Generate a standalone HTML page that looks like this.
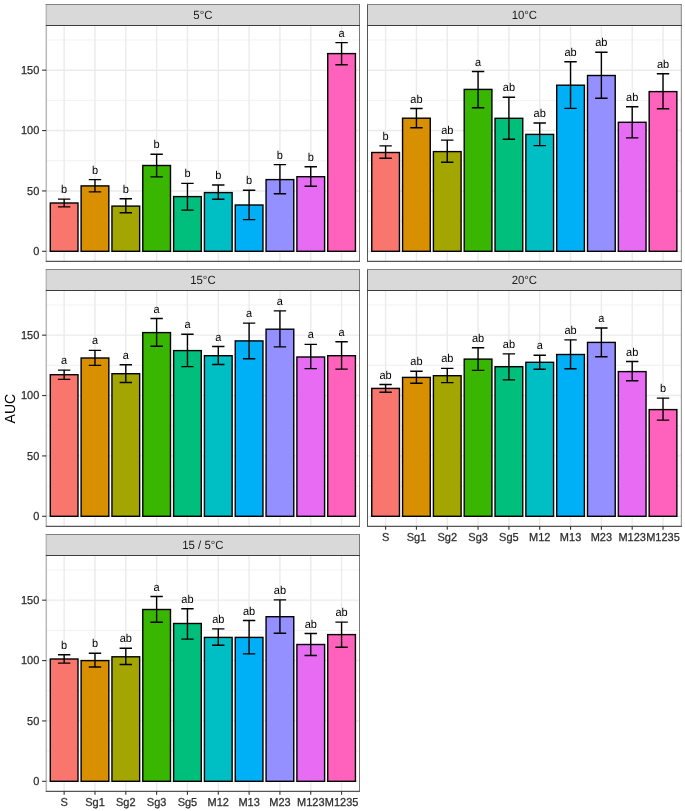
<!DOCTYPE html>
<html><head><meta charset="utf-8"><style>
html,body{margin:0;padding:0;background:#fff;}
body{width:685px;height:811px;overflow:hidden;}
svg{display:block;will-change:transform;}
text{font-family:"Liberation Sans",sans-serif;text-rendering:geometricPrecision;}
.lt{font-size:11.0px;text-anchor:middle;fill:#000;}
.st{font-size:11.4px;text-anchor:middle;fill:#1A1A1A;}
.yt{font-size:11.0px;text-anchor:end;fill:#2E2E2E;stroke:#2E2E2E;stroke-width:0.25px;}
.xt{font-size:11.0px;text-anchor:middle;fill:#2E2E2E;stroke:#2E2E2E;stroke-width:0.25px;}
.ti{font-size:14.0px;text-anchor:middle;fill:#000;}
</style></head><body>
<svg width="685" height="811" viewBox="0 0 685 811">
<g>
<rect width="685" height="811" fill="#fff"/>
<rect x="46.2" y="25.5" width="313.4" height="235.8" fill="#fff"/>
<line x1="46.2" x2="359.6" y1="221.11" y2="221.11" stroke="#EBEBEB" stroke-width="0.7"/>
<line x1="46.2" x2="359.6" y1="160.74" y2="160.74" stroke="#EBEBEB" stroke-width="0.7"/>
<line x1="46.2" x2="359.6" y1="100.36" y2="100.36" stroke="#EBEBEB" stroke-width="0.7"/>
<line x1="46.2" x2="359.6" y1="39.99" y2="39.99" stroke="#EBEBEB" stroke-width="0.7"/>
<line x1="46.2" x2="359.6" y1="251.3" y2="251.3" stroke="#EBEBEB" stroke-width="1.4"/>
<line x1="46.2" x2="359.6" y1="190.93" y2="190.93" stroke="#EBEBEB" stroke-width="1.4"/>
<line x1="46.2" x2="359.6" y1="130.55" y2="130.55" stroke="#EBEBEB" stroke-width="1.4"/>
<line x1="46.2" x2="359.6" y1="70.18" y2="70.18" stroke="#EBEBEB" stroke-width="1.4"/>
<line x1="64.15" x2="64.15" y1="25.5" y2="261.3" stroke="#EBEBEB" stroke-width="1.4"/>
<line x1="94.98" x2="94.98" y1="25.5" y2="261.3" stroke="#EBEBEB" stroke-width="1.4"/>
<line x1="125.8" x2="125.8" y1="25.5" y2="261.3" stroke="#EBEBEB" stroke-width="1.4"/>
<line x1="156.62" x2="156.62" y1="25.5" y2="261.3" stroke="#EBEBEB" stroke-width="1.4"/>
<line x1="187.45" x2="187.45" y1="25.5" y2="261.3" stroke="#EBEBEB" stroke-width="1.4"/>
<line x1="218.28" x2="218.28" y1="25.5" y2="261.3" stroke="#EBEBEB" stroke-width="1.4"/>
<line x1="249.1" x2="249.1" y1="25.5" y2="261.3" stroke="#EBEBEB" stroke-width="1.4"/>
<line x1="279.93" x2="279.93" y1="25.5" y2="261.3" stroke="#EBEBEB" stroke-width="1.4"/>
<line x1="310.75" x2="310.75" y1="25.5" y2="261.3" stroke="#EBEBEB" stroke-width="1.4"/>
<line x1="341.58" x2="341.58" y1="25.5" y2="261.3" stroke="#EBEBEB" stroke-width="1.4"/>
<rect x="50.3" y="203" width="27.7" height="48.3" fill="#F8766D" stroke="#000" stroke-width="1.4"/>
<rect x="81.13" y="185.9" width="27.7" height="65.4" fill="#D89000" stroke="#000" stroke-width="1.4"/>
<rect x="111.95" y="206.1" width="27.7" height="45.2" fill="#A3A500" stroke="#000" stroke-width="1.4"/>
<rect x="142.78" y="165.5" width="27.7" height="85.8" fill="#39B600" stroke="#000" stroke-width="1.4"/>
<rect x="173.6" y="196.6" width="27.7" height="54.7" fill="#00BF7D" stroke="#000" stroke-width="1.4"/>
<rect x="204.43" y="192.6" width="27.7" height="58.7" fill="#00BFC4" stroke="#000" stroke-width="1.4"/>
<rect x="235.25" y="205" width="27.7" height="46.3" fill="#00B0F6" stroke="#000" stroke-width="1.4"/>
<rect x="266.07" y="179.6" width="27.7" height="71.7" fill="#9590FF" stroke="#000" stroke-width="1.4"/>
<rect x="296.9" y="176.7" width="27.7" height="74.6" fill="#E76BF3" stroke="#000" stroke-width="1.4"/>
<rect x="327.73" y="53.6" width="27.7" height="197.7" fill="#FF62BC" stroke="#000" stroke-width="1.4"/>
<path d="M57.95 199.1H70.35M64.15 199.1V206.9M57.95 206.9H70.35" stroke="#000" stroke-width="1.4" fill="none"/>
<text transform="translate(64.15 193.1) scale(1 1.045)" class="lt">b</text>
<path d="M88.78 179.6H101.18M94.98 179.6V191.9M88.78 191.9H101.18" stroke="#000" stroke-width="1.4" fill="none"/>
<text transform="translate(94.98 173.6) scale(1 1.045)" class="lt">b</text>
<path d="M119.6 198.7H132M125.8 198.7V212.7M119.6 212.7H132" stroke="#000" stroke-width="1.4" fill="none"/>
<text transform="translate(125.8 192.7) scale(1 1.045)" class="lt">b</text>
<path d="M150.43 154.2H162.82M156.62 154.2V176.9M150.43 176.9H162.82" stroke="#000" stroke-width="1.4" fill="none"/>
<text transform="translate(156.62 148.2) scale(1 1.045)" class="lt">b</text>
<path d="M181.25 183.4H193.65M187.45 183.4V210.1M181.25 210.1H193.65" stroke="#000" stroke-width="1.4" fill="none"/>
<text transform="translate(187.45 177.4) scale(1 1.045)" class="lt">b</text>
<path d="M212.08 185H224.47M218.28 185V199.3M212.08 199.3H224.47" stroke="#000" stroke-width="1.4" fill="none"/>
<text transform="translate(218.28 179) scale(1 1.045)" class="lt">b</text>
<path d="M242.9 190.3H255.3M249.1 190.3V219.6M242.9 219.6H255.3" stroke="#000" stroke-width="1.4" fill="none"/>
<text transform="translate(249.1 184.3) scale(1 1.045)" class="lt">b</text>
<path d="M273.73 164.6H286.12M279.93 164.6V193.8M273.73 193.8H286.12" stroke="#000" stroke-width="1.4" fill="none"/>
<text transform="translate(279.93 158.6) scale(1 1.045)" class="lt">b</text>
<path d="M304.55 166.7H316.95M310.75 166.7V186.2M304.55 186.2H316.95" stroke="#000" stroke-width="1.4" fill="none"/>
<text transform="translate(310.75 160.7) scale(1 1.045)" class="lt">b</text>
<path d="M335.38 42.6H347.78M341.58 42.6V64.7M335.38 64.7H347.78" stroke="#000" stroke-width="1.4" fill="none"/>
<text transform="translate(341.58 36.6) scale(1 1.045)" class="lt">a</text>
<rect x="46.2" y="4.4" width="313.4" height="21.1" fill="#D9D9D9"/>
<line x1="46.3" x2="46.3" y1="3.9" y2="261.8" stroke="#B8B8B8" stroke-width="1.5"/>
<line x1="359.5" x2="359.5" y1="3.9" y2="261.8" stroke="#777777" stroke-width="1.0"/>
<line x1="45.8" x2="360" y1="4.5" y2="4.5" stroke="#808080" stroke-width="1.0"/>
<line x1="45.8" x2="360" y1="25.5" y2="25.5" stroke="#3C3C3C" stroke-width="1.1"/>
<line x1="45.8" x2="360" y1="261.4" y2="261.4" stroke="#555555" stroke-width="1.1"/>
<text transform="translate(202.9 19.3) scale(1 1.045)" class="st">5°C</text>
<line x1="42.1" x2="46.2" y1="251.3" y2="251.3" stroke="#333" stroke-width="1.1"/>
<text transform="translate(39.3 255.2) scale(1 1.045)" class="yt">0</text>
<line x1="42.1" x2="46.2" y1="190.93" y2="190.93" stroke="#333" stroke-width="1.1"/>
<text transform="translate(39.3 194.83) scale(1 1.045)" class="yt">50</text>
<line x1="42.1" x2="46.2" y1="130.55" y2="130.55" stroke="#333" stroke-width="1.1"/>
<text transform="translate(39.3 134.45) scale(1 1.045)" class="yt">100</text>
<line x1="42.1" x2="46.2" y1="70.18" y2="70.18" stroke="#333" stroke-width="1.1"/>
<text transform="translate(39.3 74.08) scale(1 1.045)" class="yt">150</text>
<rect x="367.65" y="25.5" width="313.4" height="235.8" fill="#fff"/>
<line x1="367.65" x2="681.05" y1="221.11" y2="221.11" stroke="#EBEBEB" stroke-width="0.7"/>
<line x1="367.65" x2="681.05" y1="160.74" y2="160.74" stroke="#EBEBEB" stroke-width="0.7"/>
<line x1="367.65" x2="681.05" y1="100.36" y2="100.36" stroke="#EBEBEB" stroke-width="0.7"/>
<line x1="367.65" x2="681.05" y1="39.99" y2="39.99" stroke="#EBEBEB" stroke-width="0.7"/>
<line x1="367.65" x2="681.05" y1="251.3" y2="251.3" stroke="#EBEBEB" stroke-width="1.4"/>
<line x1="367.65" x2="681.05" y1="190.93" y2="190.93" stroke="#EBEBEB" stroke-width="1.4"/>
<line x1="367.65" x2="681.05" y1="130.55" y2="130.55" stroke="#EBEBEB" stroke-width="1.4"/>
<line x1="367.65" x2="681.05" y1="70.18" y2="70.18" stroke="#EBEBEB" stroke-width="1.4"/>
<line x1="385.6" x2="385.6" y1="25.5" y2="261.3" stroke="#EBEBEB" stroke-width="1.4"/>
<line x1="416.42" x2="416.42" y1="25.5" y2="261.3" stroke="#EBEBEB" stroke-width="1.4"/>
<line x1="447.25" x2="447.25" y1="25.5" y2="261.3" stroke="#EBEBEB" stroke-width="1.4"/>
<line x1="478.07" x2="478.07" y1="25.5" y2="261.3" stroke="#EBEBEB" stroke-width="1.4"/>
<line x1="508.9" x2="508.9" y1="25.5" y2="261.3" stroke="#EBEBEB" stroke-width="1.4"/>
<line x1="539.72" x2="539.72" y1="25.5" y2="261.3" stroke="#EBEBEB" stroke-width="1.4"/>
<line x1="570.55" x2="570.55" y1="25.5" y2="261.3" stroke="#EBEBEB" stroke-width="1.4"/>
<line x1="601.38" x2="601.38" y1="25.5" y2="261.3" stroke="#EBEBEB" stroke-width="1.4"/>
<line x1="632.2" x2="632.2" y1="25.5" y2="261.3" stroke="#EBEBEB" stroke-width="1.4"/>
<line x1="663.02" x2="663.02" y1="25.5" y2="261.3" stroke="#EBEBEB" stroke-width="1.4"/>
<rect x="371.75" y="152.5" width="27.7" height="98.8" fill="#F8766D" stroke="#000" stroke-width="1.4"/>
<rect x="402.57" y="118.2" width="27.7" height="133.1" fill="#D89000" stroke="#000" stroke-width="1.4"/>
<rect x="433.4" y="151.6" width="27.7" height="99.7" fill="#A3A500" stroke="#000" stroke-width="1.4"/>
<rect x="464.22" y="89.4" width="27.7" height="161.9" fill="#39B600" stroke="#000" stroke-width="1.4"/>
<rect x="495.05" y="118.3" width="27.7" height="133" fill="#00BF7D" stroke="#000" stroke-width="1.4"/>
<rect x="525.87" y="134.4" width="27.7" height="116.9" fill="#00BFC4" stroke="#000" stroke-width="1.4"/>
<rect x="556.7" y="85.2" width="27.7" height="166.1" fill="#00B0F6" stroke="#000" stroke-width="1.4"/>
<rect x="587.52" y="75.5" width="27.7" height="175.8" fill="#9590FF" stroke="#000" stroke-width="1.4"/>
<rect x="618.35" y="122.3" width="27.7" height="129" fill="#E76BF3" stroke="#000" stroke-width="1.4"/>
<rect x="649.17" y="91.6" width="27.7" height="159.7" fill="#FF62BC" stroke="#000" stroke-width="1.4"/>
<path d="M379.4 145.9H391.8M385.6 145.9V158.2M379.4 158.2H391.8" stroke="#000" stroke-width="1.4" fill="none"/>
<text transform="translate(385.6 139.9) scale(1 1.045)" class="lt">b</text>
<path d="M410.22 108.5H422.62M416.42 108.5V127.7M410.22 127.7H422.62" stroke="#000" stroke-width="1.4" fill="none"/>
<text transform="translate(416.42 102.5) scale(1 1.045)" class="lt">ab</text>
<path d="M441.05 140.1H453.45M447.25 140.1V162.3M441.05 162.3H453.45" stroke="#000" stroke-width="1.4" fill="none"/>
<text transform="translate(447.25 134.1) scale(1 1.045)" class="lt">ab</text>
<path d="M471.87 71.5H484.27M478.07 71.5V107.7M471.87 107.7H484.27" stroke="#000" stroke-width="1.4" fill="none"/>
<text transform="translate(478.07 65.5) scale(1 1.045)" class="lt">a</text>
<path d="M502.7 97.2H515.1M508.9 97.2V139.3M502.7 139.3H515.1" stroke="#000" stroke-width="1.4" fill="none"/>
<text transform="translate(508.9 91.2) scale(1 1.045)" class="lt">ab</text>
<path d="M533.52 123H545.92M539.72 123V145.6M533.52 145.6H545.92" stroke="#000" stroke-width="1.4" fill="none"/>
<text transform="translate(539.72 117) scale(1 1.045)" class="lt">ab</text>
<path d="M564.35 61.8H576.75M570.55 61.8V108.4M564.35 108.4H576.75" stroke="#000" stroke-width="1.4" fill="none"/>
<text transform="translate(570.55 55.8) scale(1 1.045)" class="lt">ab</text>
<path d="M595.17 52.3H607.58M601.38 52.3V98.3M595.17 98.3H607.58" stroke="#000" stroke-width="1.4" fill="none"/>
<text transform="translate(601.38 46.3) scale(1 1.045)" class="lt">ab</text>
<path d="M626 106.8H638.4M632.2 106.8V137.9M626 137.9H638.4" stroke="#000" stroke-width="1.4" fill="none"/>
<text transform="translate(632.2 100.8) scale(1 1.045)" class="lt">ab</text>
<path d="M656.82 73.8H669.23M663.02 73.8V108.8M656.82 108.8H669.23" stroke="#000" stroke-width="1.4" fill="none"/>
<text transform="translate(663.02 67.8) scale(1 1.045)" class="lt">ab</text>
<rect x="367.65" y="4.4" width="313.4" height="21.1" fill="#D9D9D9"/>
<line x1="367.5" x2="367.5" y1="3.9" y2="261.8" stroke="#555555" stroke-width="1.0"/>
<line x1="681.4" x2="681.4" y1="3.9" y2="261.8" stroke="#999999" stroke-width="1.2"/>
<line x1="367" x2="681.9" y1="4.5" y2="4.5" stroke="#808080" stroke-width="1.0"/>
<line x1="367" x2="681.9" y1="25.5" y2="25.5" stroke="#3C3C3C" stroke-width="1.1"/>
<line x1="367" x2="681.9" y1="261.4" y2="261.4" stroke="#555555" stroke-width="1.1"/>
<text transform="translate(524.35 19.3) scale(1 1.045)" class="st">10°C</text>
<rect x="46.2" y="290.5" width="313.4" height="235.8" fill="#fff"/>
<line x1="46.2" x2="359.6" y1="486.11" y2="486.11" stroke="#EBEBEB" stroke-width="0.7"/>
<line x1="46.2" x2="359.6" y1="425.74" y2="425.74" stroke="#EBEBEB" stroke-width="0.7"/>
<line x1="46.2" x2="359.6" y1="365.36" y2="365.36" stroke="#EBEBEB" stroke-width="0.7"/>
<line x1="46.2" x2="359.6" y1="304.99" y2="304.99" stroke="#EBEBEB" stroke-width="0.7"/>
<line x1="46.2" x2="359.6" y1="516.3" y2="516.3" stroke="#EBEBEB" stroke-width="1.4"/>
<line x1="46.2" x2="359.6" y1="455.92" y2="455.92" stroke="#EBEBEB" stroke-width="1.4"/>
<line x1="46.2" x2="359.6" y1="395.55" y2="395.55" stroke="#EBEBEB" stroke-width="1.4"/>
<line x1="46.2" x2="359.6" y1="335.17" y2="335.17" stroke="#EBEBEB" stroke-width="1.4"/>
<line x1="64.15" x2="64.15" y1="290.5" y2="526.3" stroke="#EBEBEB" stroke-width="1.4"/>
<line x1="94.98" x2="94.98" y1="290.5" y2="526.3" stroke="#EBEBEB" stroke-width="1.4"/>
<line x1="125.8" x2="125.8" y1="290.5" y2="526.3" stroke="#EBEBEB" stroke-width="1.4"/>
<line x1="156.62" x2="156.62" y1="290.5" y2="526.3" stroke="#EBEBEB" stroke-width="1.4"/>
<line x1="187.45" x2="187.45" y1="290.5" y2="526.3" stroke="#EBEBEB" stroke-width="1.4"/>
<line x1="218.28" x2="218.28" y1="290.5" y2="526.3" stroke="#EBEBEB" stroke-width="1.4"/>
<line x1="249.1" x2="249.1" y1="290.5" y2="526.3" stroke="#EBEBEB" stroke-width="1.4"/>
<line x1="279.93" x2="279.93" y1="290.5" y2="526.3" stroke="#EBEBEB" stroke-width="1.4"/>
<line x1="310.75" x2="310.75" y1="290.5" y2="526.3" stroke="#EBEBEB" stroke-width="1.4"/>
<line x1="341.58" x2="341.58" y1="290.5" y2="526.3" stroke="#EBEBEB" stroke-width="1.4"/>
<rect x="50.3" y="374.7" width="27.7" height="141.6" fill="#F8766D" stroke="#000" stroke-width="1.4"/>
<rect x="81.13" y="358" width="27.7" height="158.3" fill="#D89000" stroke="#000" stroke-width="1.4"/>
<rect x="111.95" y="373.7" width="27.7" height="142.6" fill="#A3A500" stroke="#000" stroke-width="1.4"/>
<rect x="142.78" y="332.6" width="27.7" height="183.7" fill="#39B600" stroke="#000" stroke-width="1.4"/>
<rect x="173.6" y="350.6" width="27.7" height="165.7" fill="#00BF7D" stroke="#000" stroke-width="1.4"/>
<rect x="204.43" y="355.7" width="27.7" height="160.6" fill="#00BFC4" stroke="#000" stroke-width="1.4"/>
<rect x="235.25" y="340.9" width="27.7" height="175.4" fill="#00B0F6" stroke="#000" stroke-width="1.4"/>
<rect x="266.07" y="329.2" width="27.7" height="187.1" fill="#9590FF" stroke="#000" stroke-width="1.4"/>
<rect x="296.9" y="357" width="27.7" height="159.3" fill="#E76BF3" stroke="#000" stroke-width="1.4"/>
<rect x="327.73" y="355.7" width="27.7" height="160.6" fill="#FF62BC" stroke="#000" stroke-width="1.4"/>
<path d="M57.95 370.1H70.35M64.15 370.1V379.4M57.95 379.4H70.35" stroke="#000" stroke-width="1.4" fill="none"/>
<text transform="translate(64.15 364.1) scale(1 1.045)" class="lt">a</text>
<path d="M88.78 350.4H101.18M94.98 350.4V365.4M88.78 365.4H101.18" stroke="#000" stroke-width="1.4" fill="none"/>
<text transform="translate(94.98 344.4) scale(1 1.045)" class="lt">a</text>
<path d="M119.6 364.8H132M125.8 364.8V382.5M119.6 382.5H132" stroke="#000" stroke-width="1.4" fill="none"/>
<text transform="translate(125.8 358.8) scale(1 1.045)" class="lt">a</text>
<path d="M150.43 318.5H162.82M156.62 318.5V346.2M150.43 346.2H162.82" stroke="#000" stroke-width="1.4" fill="none"/>
<text transform="translate(156.62 312.5) scale(1 1.045)" class="lt">a</text>
<path d="M181.25 334.2H193.65M187.45 334.2V366.6M181.25 366.6H193.65" stroke="#000" stroke-width="1.4" fill="none"/>
<text transform="translate(187.45 328.2) scale(1 1.045)" class="lt">a</text>
<path d="M212.08 346.5H224.47M218.28 346.5V364.5M212.08 364.5H224.47" stroke="#000" stroke-width="1.4" fill="none"/>
<text transform="translate(218.28 340.5) scale(1 1.045)" class="lt">a</text>
<path d="M242.9 323.1H255.3M249.1 323.1V358.8M242.9 358.8H255.3" stroke="#000" stroke-width="1.4" fill="none"/>
<text transform="translate(249.1 317.1) scale(1 1.045)" class="lt">a</text>
<path d="M273.73 310.9H286.12M279.93 310.9V346.9M273.73 346.9H286.12" stroke="#000" stroke-width="1.4" fill="none"/>
<text transform="translate(279.93 304.9) scale(1 1.045)" class="lt">a</text>
<path d="M304.55 344.4H316.95M310.75 344.4V368.6M304.55 368.6H316.95" stroke="#000" stroke-width="1.4" fill="none"/>
<text transform="translate(310.75 338.4) scale(1 1.045)" class="lt">a</text>
<path d="M335.38 341.7H347.78M341.58 341.7V369.1M335.38 369.1H347.78" stroke="#000" stroke-width="1.4" fill="none"/>
<text transform="translate(341.58 335.7) scale(1 1.045)" class="lt">a</text>
<rect x="46.2" y="269.4" width="313.4" height="21.1" fill="#D9D9D9"/>
<line x1="46.3" x2="46.3" y1="268.9" y2="526.8" stroke="#B8B8B8" stroke-width="1.5"/>
<line x1="359.5" x2="359.5" y1="268.9" y2="526.8" stroke="#777777" stroke-width="1.0"/>
<line x1="45.8" x2="360" y1="269.5" y2="269.5" stroke="#808080" stroke-width="1.0"/>
<line x1="45.8" x2="360" y1="290.5" y2="290.5" stroke="#3C3C3C" stroke-width="1.1"/>
<line x1="45.8" x2="360" y1="526.4" y2="526.4" stroke="#555555" stroke-width="1.1"/>
<text transform="translate(202.9 284.3) scale(1 1.045)" class="st">15°C</text>
<line x1="42.1" x2="46.2" y1="516.3" y2="516.3" stroke="#333" stroke-width="1.1"/>
<text transform="translate(39.3 520.2) scale(1 1.045)" class="yt">0</text>
<line x1="42.1" x2="46.2" y1="455.92" y2="455.92" stroke="#333" stroke-width="1.1"/>
<text transform="translate(39.3 459.82) scale(1 1.045)" class="yt">50</text>
<line x1="42.1" x2="46.2" y1="395.55" y2="395.55" stroke="#333" stroke-width="1.1"/>
<text transform="translate(39.3 399.45) scale(1 1.045)" class="yt">100</text>
<line x1="42.1" x2="46.2" y1="335.17" y2="335.17" stroke="#333" stroke-width="1.1"/>
<text transform="translate(39.3 339.07) scale(1 1.045)" class="yt">150</text>
<rect x="367.65" y="290.5" width="313.4" height="235.8" fill="#fff"/>
<line x1="367.65" x2="681.05" y1="486.11" y2="486.11" stroke="#EBEBEB" stroke-width="0.7"/>
<line x1="367.65" x2="681.05" y1="425.74" y2="425.74" stroke="#EBEBEB" stroke-width="0.7"/>
<line x1="367.65" x2="681.05" y1="365.36" y2="365.36" stroke="#EBEBEB" stroke-width="0.7"/>
<line x1="367.65" x2="681.05" y1="304.99" y2="304.99" stroke="#EBEBEB" stroke-width="0.7"/>
<line x1="367.65" x2="681.05" y1="516.3" y2="516.3" stroke="#EBEBEB" stroke-width="1.4"/>
<line x1="367.65" x2="681.05" y1="455.92" y2="455.92" stroke="#EBEBEB" stroke-width="1.4"/>
<line x1="367.65" x2="681.05" y1="395.55" y2="395.55" stroke="#EBEBEB" stroke-width="1.4"/>
<line x1="367.65" x2="681.05" y1="335.17" y2="335.17" stroke="#EBEBEB" stroke-width="1.4"/>
<line x1="385.6" x2="385.6" y1="290.5" y2="526.3" stroke="#EBEBEB" stroke-width="1.4"/>
<line x1="416.42" x2="416.42" y1="290.5" y2="526.3" stroke="#EBEBEB" stroke-width="1.4"/>
<line x1="447.25" x2="447.25" y1="290.5" y2="526.3" stroke="#EBEBEB" stroke-width="1.4"/>
<line x1="478.07" x2="478.07" y1="290.5" y2="526.3" stroke="#EBEBEB" stroke-width="1.4"/>
<line x1="508.9" x2="508.9" y1="290.5" y2="526.3" stroke="#EBEBEB" stroke-width="1.4"/>
<line x1="539.72" x2="539.72" y1="290.5" y2="526.3" stroke="#EBEBEB" stroke-width="1.4"/>
<line x1="570.55" x2="570.55" y1="290.5" y2="526.3" stroke="#EBEBEB" stroke-width="1.4"/>
<line x1="601.38" x2="601.38" y1="290.5" y2="526.3" stroke="#EBEBEB" stroke-width="1.4"/>
<line x1="632.2" x2="632.2" y1="290.5" y2="526.3" stroke="#EBEBEB" stroke-width="1.4"/>
<line x1="663.02" x2="663.02" y1="290.5" y2="526.3" stroke="#EBEBEB" stroke-width="1.4"/>
<rect x="371.75" y="388.4" width="27.7" height="127.9" fill="#F8766D" stroke="#000" stroke-width="1.4"/>
<rect x="402.57" y="377.4" width="27.7" height="138.9" fill="#D89000" stroke="#000" stroke-width="1.4"/>
<rect x="433.4" y="375.7" width="27.7" height="140.6" fill="#A3A500" stroke="#000" stroke-width="1.4"/>
<rect x="464.22" y="359.1" width="27.7" height="157.2" fill="#39B600" stroke="#000" stroke-width="1.4"/>
<rect x="495.05" y="366.7" width="27.7" height="149.6" fill="#00BF7D" stroke="#000" stroke-width="1.4"/>
<rect x="525.87" y="362.3" width="27.7" height="154" fill="#00BFC4" stroke="#000" stroke-width="1.4"/>
<rect x="556.7" y="354.5" width="27.7" height="161.8" fill="#00B0F6" stroke="#000" stroke-width="1.4"/>
<rect x="587.52" y="342.4" width="27.7" height="173.9" fill="#9590FF" stroke="#000" stroke-width="1.4"/>
<rect x="618.35" y="371.6" width="27.7" height="144.7" fill="#E76BF3" stroke="#000" stroke-width="1.4"/>
<rect x="649.17" y="409.6" width="27.7" height="106.7" fill="#FF62BC" stroke="#000" stroke-width="1.4"/>
<path d="M379.4 384.5H391.8M385.6 384.5V392.3M379.4 392.3H391.8" stroke="#000" stroke-width="1.4" fill="none"/>
<text transform="translate(385.6 378.5) scale(1 1.045)" class="lt">ab</text>
<path d="M410.22 371.3H422.62M416.42 371.3V383.3M410.22 383.3H422.62" stroke="#000" stroke-width="1.4" fill="none"/>
<text transform="translate(416.42 365.3) scale(1 1.045)" class="lt">ab</text>
<path d="M441.05 368.4H453.45M447.25 368.4V382.6M441.05 382.6H453.45" stroke="#000" stroke-width="1.4" fill="none"/>
<text transform="translate(447.25 362.4) scale(1 1.045)" class="lt">ab</text>
<path d="M471.87 347.7H484.27M478.07 347.7V370.4M471.87 370.4H484.27" stroke="#000" stroke-width="1.4" fill="none"/>
<text transform="translate(478.07 341.7) scale(1 1.045)" class="lt">ab</text>
<path d="M502.7 353.9H515.1M508.9 353.9V379.9M502.7 379.9H515.1" stroke="#000" stroke-width="1.4" fill="none"/>
<text transform="translate(508.9 347.9) scale(1 1.045)" class="lt">ab</text>
<path d="M533.52 355.3H545.92M539.72 355.3V369.3M533.52 369.3H545.92" stroke="#000" stroke-width="1.4" fill="none"/>
<text transform="translate(539.72 349.3) scale(1 1.045)" class="lt">a</text>
<path d="M564.35 339.9H576.75M570.55 339.9V368.8M564.35 368.8H576.75" stroke="#000" stroke-width="1.4" fill="none"/>
<text transform="translate(570.55 333.9) scale(1 1.045)" class="lt">ab</text>
<path d="M595.17 328H607.58M601.38 328V356.7M595.17 356.7H607.58" stroke="#000" stroke-width="1.4" fill="none"/>
<text transform="translate(601.38 322) scale(1 1.045)" class="lt">a</text>
<path d="M626 361.5H638.4M632.2 361.5V380.8M626 380.8H638.4" stroke="#000" stroke-width="1.4" fill="none"/>
<text transform="translate(632.2 355.5) scale(1 1.045)" class="lt">ab</text>
<path d="M656.82 398.1H669.23M663.02 398.1V420.1M656.82 420.1H669.23" stroke="#000" stroke-width="1.4" fill="none"/>
<text transform="translate(663.02 392.1) scale(1 1.045)" class="lt">b</text>
<rect x="367.65" y="269.4" width="313.4" height="21.1" fill="#D9D9D9"/>
<line x1="367.5" x2="367.5" y1="268.9" y2="526.8" stroke="#555555" stroke-width="1.0"/>
<line x1="681.4" x2="681.4" y1="268.9" y2="526.8" stroke="#999999" stroke-width="1.2"/>
<line x1="367" x2="681.9" y1="269.5" y2="269.5" stroke="#808080" stroke-width="1.0"/>
<line x1="367" x2="681.9" y1="290.5" y2="290.5" stroke="#3C3C3C" stroke-width="1.1"/>
<line x1="367" x2="681.9" y1="526.4" y2="526.4" stroke="#555555" stroke-width="1.1"/>
<text transform="translate(524.35 284.3) scale(1 1.045)" class="st">20°C</text>
<line x1="385.6" x2="385.6" y1="526.3" y2="529.7" stroke="#333" stroke-width="1.1"/>
<text transform="translate(385.6 541.3) scale(1 1.045)" class="xt">S</text>
<line x1="416.42" x2="416.42" y1="526.3" y2="529.7" stroke="#333" stroke-width="1.1"/>
<text transform="translate(416.42 541.3) scale(1 1.045)" class="xt">Sg1</text>
<line x1="447.25" x2="447.25" y1="526.3" y2="529.7" stroke="#333" stroke-width="1.1"/>
<text transform="translate(447.25 541.3) scale(1 1.045)" class="xt">Sg2</text>
<line x1="478.07" x2="478.07" y1="526.3" y2="529.7" stroke="#333" stroke-width="1.1"/>
<text transform="translate(478.07 541.3) scale(1 1.045)" class="xt">Sg3</text>
<line x1="508.9" x2="508.9" y1="526.3" y2="529.7" stroke="#333" stroke-width="1.1"/>
<text transform="translate(508.9 541.3) scale(1 1.045)" class="xt">Sg5</text>
<line x1="539.72" x2="539.72" y1="526.3" y2="529.7" stroke="#333" stroke-width="1.1"/>
<text transform="translate(539.72 541.3) scale(1 1.045)" class="xt">M12</text>
<line x1="570.55" x2="570.55" y1="526.3" y2="529.7" stroke="#333" stroke-width="1.1"/>
<text transform="translate(570.55 541.3) scale(1 1.045)" class="xt">M13</text>
<line x1="601.38" x2="601.38" y1="526.3" y2="529.7" stroke="#333" stroke-width="1.1"/>
<text transform="translate(601.38 541.3) scale(1 1.045)" class="xt">M23</text>
<line x1="632.2" x2="632.2" y1="526.3" y2="529.7" stroke="#333" stroke-width="1.1"/>
<text transform="translate(632.2 541.3) scale(1 1.045)" class="xt">M123</text>
<line x1="663.02" x2="663.02" y1="526.3" y2="529.7" stroke="#333" stroke-width="1.1"/>
<text transform="translate(663.02 541.3) scale(1 1.045)" class="xt">M1235</text>
<rect x="46.2" y="555.5" width="313.4" height="235.8" fill="#fff"/>
<line x1="46.2" x2="359.6" y1="751.11" y2="751.11" stroke="#EBEBEB" stroke-width="0.7"/>
<line x1="46.2" x2="359.6" y1="690.74" y2="690.74" stroke="#EBEBEB" stroke-width="0.7"/>
<line x1="46.2" x2="359.6" y1="630.36" y2="630.36" stroke="#EBEBEB" stroke-width="0.7"/>
<line x1="46.2" x2="359.6" y1="569.99" y2="569.99" stroke="#EBEBEB" stroke-width="0.7"/>
<line x1="46.2" x2="359.6" y1="781.3" y2="781.3" stroke="#EBEBEB" stroke-width="1.4"/>
<line x1="46.2" x2="359.6" y1="720.92" y2="720.92" stroke="#EBEBEB" stroke-width="1.4"/>
<line x1="46.2" x2="359.6" y1="660.55" y2="660.55" stroke="#EBEBEB" stroke-width="1.4"/>
<line x1="46.2" x2="359.6" y1="600.17" y2="600.17" stroke="#EBEBEB" stroke-width="1.4"/>
<line x1="64.15" x2="64.15" y1="555.5" y2="791.3" stroke="#EBEBEB" stroke-width="1.4"/>
<line x1="94.98" x2="94.98" y1="555.5" y2="791.3" stroke="#EBEBEB" stroke-width="1.4"/>
<line x1="125.8" x2="125.8" y1="555.5" y2="791.3" stroke="#EBEBEB" stroke-width="1.4"/>
<line x1="156.62" x2="156.62" y1="555.5" y2="791.3" stroke="#EBEBEB" stroke-width="1.4"/>
<line x1="187.45" x2="187.45" y1="555.5" y2="791.3" stroke="#EBEBEB" stroke-width="1.4"/>
<line x1="218.28" x2="218.28" y1="555.5" y2="791.3" stroke="#EBEBEB" stroke-width="1.4"/>
<line x1="249.1" x2="249.1" y1="555.5" y2="791.3" stroke="#EBEBEB" stroke-width="1.4"/>
<line x1="279.93" x2="279.93" y1="555.5" y2="791.3" stroke="#EBEBEB" stroke-width="1.4"/>
<line x1="310.75" x2="310.75" y1="555.5" y2="791.3" stroke="#EBEBEB" stroke-width="1.4"/>
<line x1="341.58" x2="341.58" y1="555.5" y2="791.3" stroke="#EBEBEB" stroke-width="1.4"/>
<rect x="50.3" y="659" width="27.7" height="122.3" fill="#F8766D" stroke="#000" stroke-width="1.4"/>
<rect x="81.13" y="660.6" width="27.7" height="120.7" fill="#D89000" stroke="#000" stroke-width="1.4"/>
<rect x="111.95" y="656.8" width="27.7" height="124.5" fill="#A3A500" stroke="#000" stroke-width="1.4"/>
<rect x="142.78" y="609.5" width="27.7" height="171.8" fill="#39B600" stroke="#000" stroke-width="1.4"/>
<rect x="173.6" y="623.5" width="27.7" height="157.8" fill="#00BF7D" stroke="#000" stroke-width="1.4"/>
<rect x="204.43" y="637.4" width="27.7" height="143.9" fill="#00BFC4" stroke="#000" stroke-width="1.4"/>
<rect x="235.25" y="637.4" width="27.7" height="143.9" fill="#00B0F6" stroke="#000" stroke-width="1.4"/>
<rect x="266.07" y="616.7" width="27.7" height="164.6" fill="#9590FF" stroke="#000" stroke-width="1.4"/>
<rect x="296.9" y="644.5" width="27.7" height="136.8" fill="#E76BF3" stroke="#000" stroke-width="1.4"/>
<rect x="327.73" y="634.6" width="27.7" height="146.7" fill="#FF62BC" stroke="#000" stroke-width="1.4"/>
<path d="M57.95 654.7H70.35M64.15 654.7V663.1M57.95 663.1H70.35" stroke="#000" stroke-width="1.4" fill="none"/>
<text transform="translate(64.15 648.7) scale(1 1.045)" class="lt">b</text>
<path d="M88.78 653.3H101.18M94.98 653.3V667M88.78 667H101.18" stroke="#000" stroke-width="1.4" fill="none"/>
<text transform="translate(94.98 647.3) scale(1 1.045)" class="lt">b</text>
<path d="M119.6 648.2H132M125.8 648.2V664.5M119.6 664.5H132" stroke="#000" stroke-width="1.4" fill="none"/>
<text transform="translate(125.8 642.2) scale(1 1.045)" class="lt">ab</text>
<path d="M150.43 596.5H162.82M156.62 596.5V622.3M150.43 622.3H162.82" stroke="#000" stroke-width="1.4" fill="none"/>
<text transform="translate(156.62 590.5) scale(1 1.045)" class="lt">a</text>
<path d="M181.25 608.8H193.65M187.45 608.8V639.1M181.25 639.1H193.65" stroke="#000" stroke-width="1.4" fill="none"/>
<text transform="translate(187.45 602.8) scale(1 1.045)" class="lt">ab</text>
<path d="M212.08 628.9H224.47M218.28 628.9V645.3M212.08 645.3H224.47" stroke="#000" stroke-width="1.4" fill="none"/>
<text transform="translate(218.28 622.9) scale(1 1.045)" class="lt">ab</text>
<path d="M242.9 620.5H255.3M249.1 620.5V653.9M242.9 653.9H255.3" stroke="#000" stroke-width="1.4" fill="none"/>
<text transform="translate(249.1 614.5) scale(1 1.045)" class="lt">ab</text>
<path d="M273.73 599.9H286.12M279.93 599.9V633.2M273.73 633.2H286.12" stroke="#000" stroke-width="1.4" fill="none"/>
<text transform="translate(279.93 593.9) scale(1 1.045)" class="lt">ab</text>
<path d="M304.55 633.5H316.95M310.75 633.5V655.5M304.55 655.5H316.95" stroke="#000" stroke-width="1.4" fill="none"/>
<text transform="translate(310.75 627.5) scale(1 1.045)" class="lt">ab</text>
<path d="M335.38 622.1H347.78M341.58 622.1V647.2M335.38 647.2H347.78" stroke="#000" stroke-width="1.4" fill="none"/>
<text transform="translate(341.58 616.1) scale(1 1.045)" class="lt">ab</text>
<rect x="46.2" y="534.4" width="313.4" height="21.1" fill="#D9D9D9"/>
<line x1="46.3" x2="46.3" y1="533.9" y2="791.8" stroke="#B8B8B8" stroke-width="1.5"/>
<line x1="359.5" x2="359.5" y1="533.9" y2="791.8" stroke="#777777" stroke-width="1.0"/>
<line x1="45.8" x2="360" y1="534.5" y2="534.5" stroke="#808080" stroke-width="1.0"/>
<line x1="45.8" x2="360" y1="555.5" y2="555.5" stroke="#3C3C3C" stroke-width="1.1"/>
<line x1="45.8" x2="360" y1="791.4" y2="791.4" stroke="#555555" stroke-width="1.1"/>
<text transform="translate(202.9 549.3) scale(1 1.045)" class="st">15 / 5°C</text>
<line x1="42.1" x2="46.2" y1="781.3" y2="781.3" stroke="#333" stroke-width="1.1"/>
<text transform="translate(39.3 785.2) scale(1 1.045)" class="yt">0</text>
<line x1="42.1" x2="46.2" y1="720.92" y2="720.92" stroke="#333" stroke-width="1.1"/>
<text transform="translate(39.3 724.82) scale(1 1.045)" class="yt">50</text>
<line x1="42.1" x2="46.2" y1="660.55" y2="660.55" stroke="#333" stroke-width="1.1"/>
<text transform="translate(39.3 664.45) scale(1 1.045)" class="yt">100</text>
<line x1="42.1" x2="46.2" y1="600.17" y2="600.17" stroke="#333" stroke-width="1.1"/>
<text transform="translate(39.3 604.07) scale(1 1.045)" class="yt">150</text>
<line x1="64.15" x2="64.15" y1="791.3" y2="794.7" stroke="#333" stroke-width="1.1"/>
<text transform="translate(64.15 806.3) scale(1 1.045)" class="xt">S</text>
<line x1="94.98" x2="94.98" y1="791.3" y2="794.7" stroke="#333" stroke-width="1.1"/>
<text transform="translate(94.98 806.3) scale(1 1.045)" class="xt">Sg1</text>
<line x1="125.8" x2="125.8" y1="791.3" y2="794.7" stroke="#333" stroke-width="1.1"/>
<text transform="translate(125.8 806.3) scale(1 1.045)" class="xt">Sg2</text>
<line x1="156.62" x2="156.62" y1="791.3" y2="794.7" stroke="#333" stroke-width="1.1"/>
<text transform="translate(156.62 806.3) scale(1 1.045)" class="xt">Sg3</text>
<line x1="187.45" x2="187.45" y1="791.3" y2="794.7" stroke="#333" stroke-width="1.1"/>
<text transform="translate(187.45 806.3) scale(1 1.045)" class="xt">Sg5</text>
<line x1="218.28" x2="218.28" y1="791.3" y2="794.7" stroke="#333" stroke-width="1.1"/>
<text transform="translate(218.28 806.3) scale(1 1.045)" class="xt">M12</text>
<line x1="249.1" x2="249.1" y1="791.3" y2="794.7" stroke="#333" stroke-width="1.1"/>
<text transform="translate(249.1 806.3) scale(1 1.045)" class="xt">M13</text>
<line x1="279.93" x2="279.93" y1="791.3" y2="794.7" stroke="#333" stroke-width="1.1"/>
<text transform="translate(279.93 806.3) scale(1 1.045)" class="xt">M23</text>
<line x1="310.75" x2="310.75" y1="791.3" y2="794.7" stroke="#333" stroke-width="1.1"/>
<text transform="translate(310.75 806.3) scale(1 1.045)" class="xt">M123</text>
<line x1="341.58" x2="341.58" y1="791.3" y2="794.7" stroke="#333" stroke-width="1.1"/>
<text transform="translate(341.58 806.3) scale(1 1.045)" class="xt">M1235</text>
<text class="ti" transform="translate(14.5 408.6) rotate(-90) scale(1 1.045)">AUC</text>
</g>
</svg>
</body></html>
